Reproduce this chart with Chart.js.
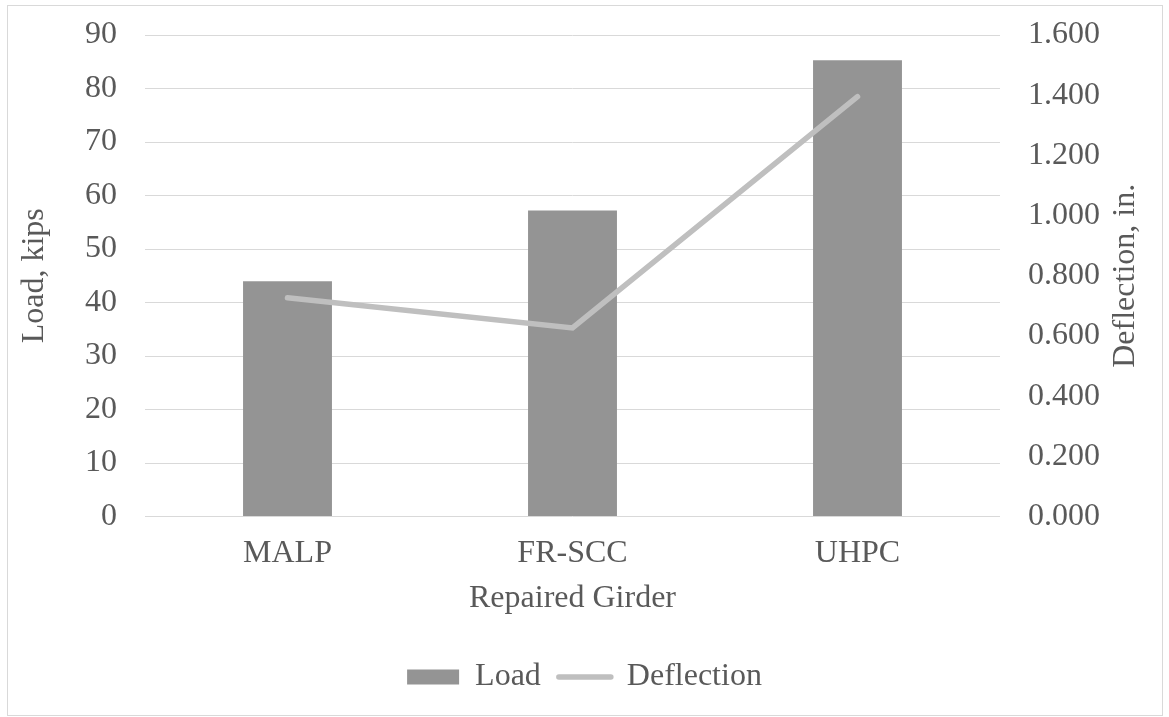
<!DOCTYPE html>
<html>
<head>
<meta charset="utf-8">
<script src="https://cdn.jsdelivr.net/npm/chart.js@4"></script>
<style>
  body { margin: 0; background: #fff; }
  #frame {
    position: absolute; left: 7px; top: 5px; width: 1156px; height: 711px;
    box-sizing: border-box; border: 1px solid #d9d9d9;
  }
  #myChart { position: absolute; left: 0; top: 0; }
</style>
</head>
<body>
<div id="frame"></div>
<canvas id="myChart" width="1169" height="717"></canvas>
<script>
// Values
const girders = ["MALP", "FR-SCC", "UHPC"];
const loadKips = [44.0, 57.2, 85.3];
const deflectionIn = [0.727, 0.627, 1.395];

const xTitle = "Repaired Girder";
const yTitle = "Load, kips";
const y1Title = "Deflection, in.";

const FONT = '"Liberation Serif", "Times New Roman", serif';
const TEXT = "#595959";

// Chart.js always rotates a right-hand axis title top-to-bottom,
// the reference reads bottom-to-top, so draw it by hand.
const rightTitle = {
  id: "rightTitle",
  afterDraw(chart) {
    const { ctx, chartArea } = chart;
    ctx.save();
    ctx.translate(chart.scales.y1.right - 43, (chartArea.top + chartArea.bottom) / 2);
    ctx.rotate(-Math.PI / 2);
    ctx.font = "32px " + FONT;
    ctx.fillStyle = TEXT;
    ctx.textAlign = "center";
    ctx.textBaseline = "middle";
    ctx.fillText(y1Title, 0, 0);
    ctx.restore();
  }
};

// fixed axis widths; drop the tick padding that would push the plot top down
function fixWidth(w) {
  return (scale) => {
    scale.width = w;
    scale.paddingTop = 0;
    scale.paddingBottom = 0;
  };
}

const ctx = document.getElementById("myChart").getContext("2d");

new Chart(ctx, {
  data: {
    labels: girders,
    datasets: [
      {
        type: "line",
        label: "Deflection",
        data: deflectionIn,
        yAxisID: "y1",
        borderColor: "#bfbfbf",
        backgroundColor: "#bfbfbf",
        borderWidth: 5.5,
        borderCapStyle: "round",
        pointRadius: 0,
        tension: 0,
        order: 1
      },
      {
        type: "bar",
        label: "Load",
        data: loadKips,
        yAxisID: "y",
        backgroundColor: "#949494",
        borderWidth: 0,
        categoryPercentage: 1,
        barPercentage: 0.312,
        order: 2
      }
    ]
  },
  options: {
    responsive: false,
    animation: false,
    layout: { padding: { top: 35, left: 0, right: 0, bottom: 14 } },
    plugins: {
      tooltip: { enabled: false },
      legend: {
        position: "bottom",
        labels: {
          font: { family: FONT, size: 32 },
          color: TEXT,
          padding: 18,
          usePointStyle: true,
          pointStyleWidth: 52,
          boxHeight: 15,
          generateLabels: (chart) => {
            // bar first, line second, as in the reference legend
            const ds = chart.data.datasets;
            return [
              { text: ds[1].label, fillStyle: ds[1].backgroundColor, strokeStyle: ds[1].backgroundColor,
                lineWidth: 0, pointStyle: "rect", fontColor: TEXT, datasetIndex: 1, hidden: false },
              { text: ds[0].label, fillStyle: ds[0].borderColor, strokeStyle: ds[0].borderColor,
                lineWidth: 5.5, lineCap: "round", pointStyle: "line", fontColor: TEXT, datasetIndex: 0, hidden: false }
            ];
          }
        }
      }
    },
    scales: {
      x: {
        grid: { display: false, drawTicks: false },
        border: { display: false },
        ticks: { font: { family: FONT, size: 32 }, color: TEXT, padding: 18 },
        title: {
          display: true, text: xTitle, color: TEXT,
          font: { family: FONT, size: 32 },
          padding: { top: -11.4, bottom: 25 }
        }
      },
      y: {
        position: "left",
        min: 0, max: 90,
        ticks: { stepSize: 10, font: { family: FONT, size: 32 }, color: TEXT, padding: 28 },
        grid: { color: "#d9d9d9", lineWidth: 1, drawTicks: false },
        border: { display: false },
        title: {
          display: true, text: yTitle, color: TEXT,
          font: { family: FONT, size: 32 },
          padding: { top: 15, bottom: 0 }
        },
        afterFit: fixWidth(145)
      },
      y1: {
        position: "right",
        min: 0, max: 1.6,
        ticks: {
          stepSize: 0.2, font: { family: FONT, size: 32 }, color: TEXT, padding: 28,
          callback: (v) => v.toFixed(3)
        },
        grid: { display: false, drawTicks: false },
        border: { display: false },
        afterFit: fixWidth(169)
      }
    }
  },
  plugins: [rightTitle]
});
</script>
</body>
</html>
